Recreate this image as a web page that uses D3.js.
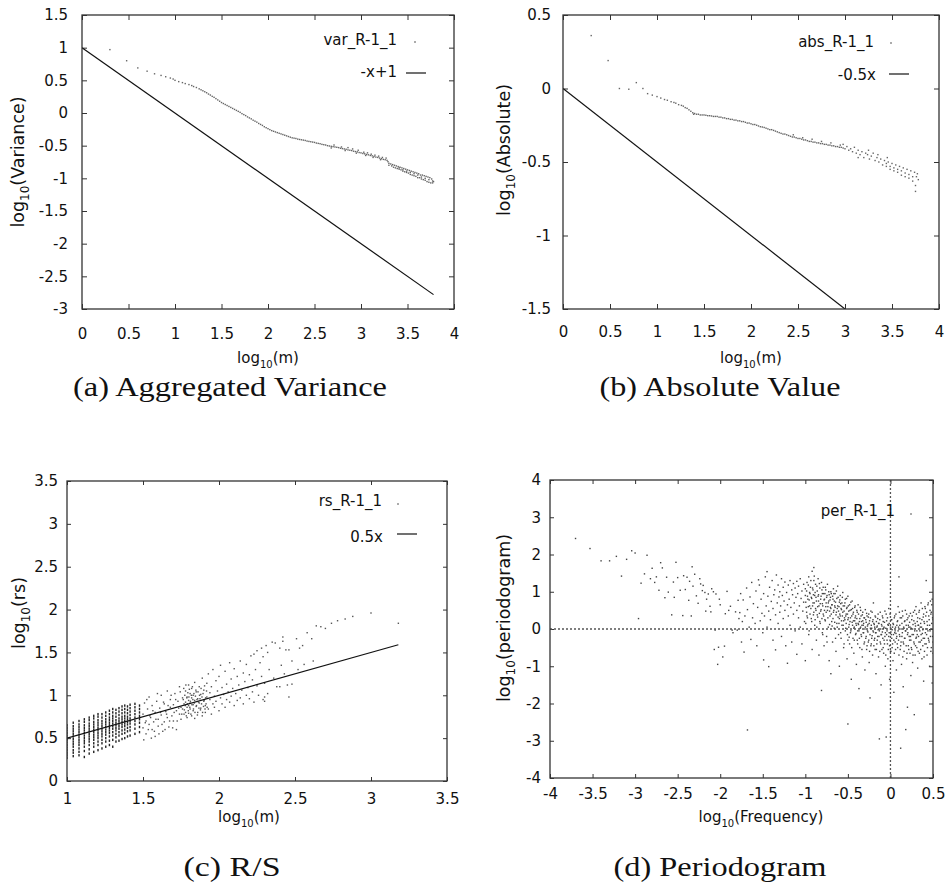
<!DOCTYPE html>
<html>
<head>
<meta charset="utf-8">
<script src="https://cdn.jsdelivr.net/npm/d3@7"></script>
<style>
body { margin: 0; background: #fff; }
</style>
</head>
<body>
<div id="chart"></div>
<script>
// ---- (a) aggregated variance: [log10(m), log10(variance)]
var varPoints = [
[0.30,0.97],[0.48,0.80],[0.60,0.69],[0.70,0.64],[0.78,0.60],[0.85,0.575],[0.90,0.555],[0.95,0.535],[0.98,0.52],[1.00,0.50],
[1.04,0.48],[1.08,0.465],[1.11,0.45],[1.15,0.435],[1.18,0.42],[1.20,0.405],[1.23,0.39],[1.26,0.37],[1.28,0.355],[1.30,0.34],
[1.32,0.325],[1.34,0.31],[1.36,0.29],[1.38,0.275],[1.40,0.255],[1.42,0.24],[1.44,0.22],[1.46,0.20],[1.48,0.18],[1.50,0.16],
[1.52,0.145],[1.54,0.13],[1.56,0.115],[1.58,0.10],[1.60,0.085],[1.62,0.07],[1.64,0.055],[1.66,0.04],[1.68,0.025],[1.70,0.01],
[1.72,-0.01],[1.74,-0.025],[1.76,-0.04],[1.78,-0.06],[1.80,-0.075],[1.82,-0.09],[1.84,-0.11],[1.86,-0.125],[1.88,-0.14],[1.90,-0.16],
[1.92,-0.175],[1.94,-0.19],[1.96,-0.21],[1.98,-0.225],[2.00,-0.24],[2.02,-0.255],[2.04,-0.27],[2.06,-0.28],[2.08,-0.29],[2.10,-0.30],
[2.12,-0.31],[2.14,-0.32],[2.16,-0.33],[2.18,-0.34],[2.20,-0.35],[2.22,-0.36],[2.24,-0.37],[2.26,-0.38],[2.28,-0.385],[2.30,-0.39],
[2.32,-0.40],[2.34,-0.405],[2.36,-0.41],[2.38,-0.415],[2.40,-0.42],[2.42,-0.43],[2.44,-0.435],[2.46,-0.44],[2.48,-0.445],[2.50,-0.45],
[2.52,-0.46],[2.54,-0.465],[2.56,-0.47],[2.58,-0.48],[2.60,-0.485],[2.62,-0.49],[2.64,-0.50],[2.66,-0.505],[2.68,-0.51],[2.70,-0.515],
[2.72,-0.52],[2.74,-0.525],[2.76,-0.53],[2.78,-0.54],[2.80,-0.545],[2.82,-0.55],[2.84,-0.555],[2.86,-0.565],[2.88,-0.57],[2.90,-0.575],
[2.92,-0.585],[2.94,-0.59],[2.96,-0.595],[2.98,-0.605],[3.00,-0.61],[3.02,-0.62],[3.04,-0.625],[3.06,-0.635],[3.08,-0.64],[3.10,-0.65],
[3.12,-0.655],[3.14,-0.665],[3.16,-0.675],[3.18,-0.68],[3.20,-0.69],[3.22,-0.70],[3.24,-0.71],[3.26,-0.715],[3.28,-0.725],
[2.71,-0.49],[2.79,-0.52],[2.86,-0.53],[2.91,-0.55],[2.97,-0.57],[3.03,-0.60],[3.07,-0.61],[3.11,-0.63],[3.15,-0.645],[3.19,-0.66],
[3.23,-0.68],[3.27,-0.69],[2.68,-0.535],[2.83,-0.575],[2.95,-0.615],[3.05,-0.65],[3.13,-0.68],[3.21,-0.715],[3.29,-0.745],
[3.30,-0.77],[3.30,-0.80],[3.32,-0.78],[3.33,-0.81],[3.34,-0.79],[3.35,-0.83],[3.36,-0.80],[3.37,-0.84],[3.38,-0.81],[3.39,-0.85],
[3.40,-0.82],[3.41,-0.86],[3.42,-0.83],[3.43,-0.87],[3.44,-0.84],[3.45,-0.89],[3.46,-0.85],[3.47,-0.90],[3.48,-0.86],[3.49,-0.91],
[3.50,-0.87],[3.51,-0.92],[3.52,-0.88],[3.53,-0.94],[3.54,-0.89],[3.55,-0.95],[3.56,-0.90],[3.57,-0.96],[3.58,-0.91],[3.59,-0.97],
[3.60,-0.92],[3.61,-0.99],[3.62,-0.93],[3.63,-0.99],[3.64,-0.95],[3.65,-1.01],[3.66,-0.95],[3.67,-1.02],[3.68,-0.96],[3.69,-1.03],
[3.70,-0.97],[3.71,-1.05],[3.72,-0.98],[3.73,-1.06],[3.74,-0.99],[3.75,-1.07],[3.76,-1.01],[3.77,-1.04],[3.78,-1.05],
[3.41,-0.84],[3.45,-0.87],[3.49,-0.89],[3.53,-0.91],[3.57,-0.93],[3.61,-0.95],[3.65,-0.98],[3.69,-1.00],[3.73,-1.02],[3.77,-1.07]
];
var varFit = [[0, 1], [3.78, -2.78]];

// ---- (b) absolute value: [log10(m), log10(absolute)]
var absPoints = [
[0.30,0.36],[0.48,0.19],[0.60,0.0],[0.70,-0.005],[0.78,0.04],[0.85,0.0],[0.90,-0.035],[0.95,-0.045],[1.00,-0.055],[1.04,-0.065],
[1.08,-0.075],[1.11,-0.08],[1.15,-0.09],[1.18,-0.095],[1.20,-0.10],[1.23,-0.11],[1.26,-0.115],[1.28,-0.12],[1.30,-0.13],[1.32,-0.135],
[1.34,-0.145],[1.36,-0.155],[1.38,-0.165],[1.39,-0.175],[1.40,-0.17],[1.42,-0.175],[1.44,-0.175],[1.46,-0.18],[1.48,-0.18],[1.50,-0.18],
[1.52,-0.182],[1.54,-0.185],[1.56,-0.185],[1.58,-0.187],[1.60,-0.19],[1.62,-0.19],[1.64,-0.19],[1.66,-0.195],[1.68,-0.195],[1.70,-0.20],
[1.72,-0.20],[1.74,-0.205],[1.76,-0.205],[1.78,-0.21],[1.80,-0.21],[1.82,-0.215],[1.84,-0.215],[1.86,-0.22],[1.88,-0.22],[1.90,-0.225],
[1.92,-0.225],[1.94,-0.23],[1.96,-0.235],[1.98,-0.235],[2.00,-0.24],[2.02,-0.245],[2.04,-0.245],[2.06,-0.25],[2.08,-0.255],[2.10,-0.26],
[2.12,-0.262],[2.14,-0.265],[2.16,-0.27],[2.18,-0.275],[2.20,-0.28],[2.22,-0.28],[2.24,-0.285],[2.26,-0.29],[2.28,-0.295],[2.30,-0.30],
[2.32,-0.305],[2.34,-0.31],[2.36,-0.31],[2.38,-0.315],[2.40,-0.32],[2.42,-0.325],[2.44,-0.33],[2.46,-0.33],[2.48,-0.335],[2.50,-0.34],
[2.52,-0.34],[2.54,-0.345],[2.56,-0.35],[2.58,-0.35],[2.60,-0.355],[2.62,-0.36],[2.64,-0.36],[2.66,-0.365],[2.68,-0.365],[2.70,-0.37],
[2.72,-0.37],[2.74,-0.375],[2.76,-0.375],[2.78,-0.38],[2.80,-0.38],[2.82,-0.385],[2.84,-0.385],[2.86,-0.39],[2.88,-0.39],[2.90,-0.395],
[2.92,-0.395],[2.94,-0.40],[2.96,-0.40],[2.98,-0.405],[3.00,-0.41],
[2.45,-0.315],[2.55,-0.335],[2.65,-0.345],[2.75,-0.36],[2.85,-0.37],[2.95,-0.385],[2.98,-0.38],[3.02,-0.395],[3.04,-0.42],[3.06,-0.41],
[3.08,-0.43],[3.10,-0.40],[3.12,-0.44],[3.14,-0.42],[3.16,-0.45],[3.18,-0.43],[3.20,-0.47],[3.22,-0.44],[3.24,-0.45],[3.26,-0.48],
[3.28,-0.46],[3.30,-0.44],[3.32,-0.49],[3.34,-0.47],[3.36,-0.50],[3.38,-0.48],[3.40,-0.52],[3.42,-0.49],[3.44,-0.53],[3.46,-0.50],
[3.48,-0.55],[3.50,-0.51],[3.52,-0.56],[3.54,-0.52],[3.56,-0.57],[3.58,-0.53],[3.60,-0.59],[3.62,-0.54],[3.64,-0.60],[3.66,-0.55],
[3.68,-0.61],[3.70,-0.56],[3.72,-0.63],[3.74,-0.57],[3.75,-0.70],[3.76,-0.60],[3.77,-0.58],[3.78,-0.62],
[3.44,-0.51],[3.48,-0.53],[3.52,-0.54],[3.56,-0.55],[3.60,-0.56],[3.64,-0.575],[3.68,-0.585],[3.72,-0.60],[3.75,-0.66],
[3.25,-0.42],[3.35,-0.45],[3.45,-0.47],[3.14,-0.47]
];
var absFit = [[0, 0], [3.78, -1.89]];

// ---- (c) R/S: columns [log10(m), [log10(rs) ...]] and loose points
var rsColumns = [
[1.000,[0.27,0.30,0.33,0.36,0.39,0.42,0.45,0.48,0.50,0.53,0.56,0.59,0.62,0.65]],
[1.041,[0.29,0.33,0.36,0.40,0.43,0.46,0.49,0.52,0.55,0.58,0.61,0.64,0.68]],
[1.079,[0.30,0.34,0.38,0.42,0.45,0.48,0.51,0.54,0.57,0.60,0.63,0.66,0.70]],
[1.114,[0.28,0.35,0.40,0.44,0.47,0.50,0.53,0.56,0.59,0.62,0.65,0.69,0.72]],
[1.146,[0.32,0.37,0.42,0.46,0.49,0.52,0.55,0.58,0.61,0.64,0.67,0.71,0.74]],
[1.176,[0.34,0.40,0.44,0.48,0.51,0.54,0.57,0.60,0.63,0.66,0.69,0.73,0.76]],
[1.204,[0.36,0.42,0.46,0.50,0.53,0.56,0.59,0.62,0.65,0.68,0.71,0.75,0.78]],
[1.230,[0.38,0.44,0.48,0.52,0.55,0.58,0.61,0.64,0.67,0.70,0.74,0.78]],
[1.255,[0.40,0.46,0.50,0.54,0.57,0.60,0.63,0.66,0.69,0.72,0.76,0.80]],
[1.279,[0.42,0.47,0.52,0.56,0.59,0.62,0.65,0.68,0.71,0.74,0.78,0.82]],
[1.301,[0.40,0.48,0.53,0.57,0.61,0.64,0.67,0.70,0.73,0.76,0.80,0.84]],
[1.322,[0.46,0.51,0.55,0.59,0.62,0.65,0.68,0.71,0.75,0.79,0.83]],
[1.342,[0.47,0.53,0.57,0.61,0.64,0.67,0.70,0.73,0.77,0.81,0.85]],
[1.362,[0.49,0.55,0.59,0.63,0.66,0.69,0.72,0.75,0.79,0.83,0.87]],
[1.380,[0.50,0.56,0.60,0.64,0.67,0.70,0.73,0.76,0.80,0.84,0.88]],
[1.398,[0.52,0.58,0.62,0.66,0.69,0.72,0.75,0.79,0.83,0.87]],
[1.415,[0.53,0.59,0.63,0.67,0.70,0.73,0.77,0.81,0.85,0.89]],
[1.447,[0.55,0.61,0.66,0.70,0.74,0.78,0.82,0.86,0.90]],
[1.477,[0.57,0.63,0.68,0.72,0.76,0.80,0.84,0.88]]
];
var rsScatter = [
[1.50,0.62],[1.50,0.78],[1.51,0.91],[1.52,0.55],[1.52,0.70],[1.53,0.84],[1.54,0.66],[1.54,0.98],[1.55,0.74],[1.56,0.60],
[1.56,0.88],[1.57,0.69],[1.58,0.80],[1.58,0.52],[1.59,0.93],[1.60,0.72],[1.60,0.64],[1.61,0.85],[1.62,0.77],[1.62,1.00],
[1.63,0.58],[1.64,0.69],[1.64,0.90],[1.65,0.81],[1.66,0.74],[1.66,1.05],[1.67,0.63],[1.68,0.86],[1.68,0.95],[1.69,0.76],
[1.70,0.70],[1.70,0.89],[1.71,1.02],[1.72,0.82],[1.72,0.60],[1.73,0.93],[1.74,0.78],[1.74,1.10],[1.75,0.86],[1.75,0.72],
[1.76,0.97],[1.76,0.84],[1.77,0.90],[1.77,0.78],[1.78,1.05],[1.78,0.92],[1.78,0.80],[1.79,0.98],[1.79,0.86],[1.79,0.74],
[1.80,1.12],[1.80,0.94],[1.80,0.88],[1.80,0.79],[1.81,1.02],[1.81,0.91],[1.81,0.84],[1.82,0.97],[1.82,0.76],[1.82,1.08],
[1.83,0.89],[1.83,1.00],[1.83,0.82],[1.84,0.94],[1.84,1.15],[1.84,0.73],[1.85,0.87],[1.85,1.04],[1.86,0.96],[1.86,0.80],
[1.87,1.10],[1.87,0.91],[1.88,0.85],[1.88,1.01],[1.89,0.76],[1.89,1.20],[1.90,0.93],[1.90,1.06],[1.91,0.88],[1.91,0.80],
[1.92,1.14],[1.92,0.98],[1.93,0.84],[1.93,1.25],[1.94,0.95],[1.94,1.03],[1.95,0.78],[1.95,1.10],[1.96,0.90],[1.96,1.30],
[1.97,0.99],[1.97,0.86],[1.98,1.17],[1.98,0.93],[1.99,1.05],[2.00,0.82],[2.00,1.22],[2.01,0.97],[2.01,1.35],[2.02,1.09],
[2.02,0.90],[2.03,1.01],[2.04,1.28],[2.04,0.86],[2.05,1.13],[2.05,0.95],[2.06,1.04],[2.07,1.38],[2.07,0.92],[2.08,1.19],
[2.08,0.99],[2.09,1.08],[2.10,0.88],[2.10,1.31],[2.11,1.02],[2.12,1.22],[2.12,0.94],[2.13,1.12],[2.14,1.40],[2.14,0.97],
[2.15,1.06],[2.16,1.26],[2.16,0.90],[2.17,1.16],[2.18,1.00],[2.18,1.36],[2.19,1.09],[2.20,0.96],[2.20,1.24],[2.21,1.46],
[2.22,1.04],[2.22,1.18],[2.23,0.92],[2.23,1.48],[2.24,1.30],[2.25,1.11],[2.25,1.52],[2.26,1.00],[2.27,1.38],[2.28,1.22],
[2.28,1.55],[2.29,0.95],[2.29,1.45],[2.30,1.14],[2.30,0.98],[2.30,0.93],[2.31,1.58],[2.32,1.02],[2.32,1.50],[2.33,1.30],
[2.35,1.62],[2.36,1.20],[2.37,1.61],[2.38,1.10],[2.40,1.55],[2.40,1.10],[2.41,1.35],[2.42,1.68],[2.42,1.63],[2.43,1.25],
[2.44,1.53],[2.45,1.12],[2.46,1.53],[2.46,0.98],[2.48,1.13],[2.48,1.40],[2.51,1.66],[2.52,1.30],[2.53,1.55],[2.55,1.58],
[2.56,1.36],[2.58,1.73],[2.61,1.66],[2.62,1.40],[2.64,1.81],[2.67,1.80],[2.70,1.78],[2.74,1.84],[2.78,1.87],[2.83,1.89],
[2.88,1.92],[3.00,1.96],[3.18,1.84],
[1.505,0.48],[1.515,0.68],[1.525,0.95],[1.535,0.60],[1.545,0.76],[1.555,0.50],[1.565,0.82],[1.575,0.58],[1.585,0.72],[1.595,1.02],
[1.605,0.55],[1.615,0.80],[1.625,0.66],[1.635,0.92],[1.645,0.60],[1.655,0.78],[1.665,0.88],[1.675,0.70],[1.685,1.00],[1.695,0.62],
[1.705,0.80],[1.715,0.95],[1.725,0.70],[1.735,0.85],[1.745,1.04],[1.755,0.78],
[1.765,0.95],[1.768,1.08],[1.772,0.83],[1.775,1.00],[1.778,0.88],[1.782,1.12],[1.785,0.76],[1.788,0.97],[1.792,0.90],[1.795,1.03],
[1.798,0.82],[1.802,0.98],[1.805,1.07],[1.808,0.86],[1.812,0.93],[1.815,0.78],[1.818,1.00],[1.822,0.89],[1.825,1.10],[1.828,0.95],
[1.832,0.84],[1.835,1.02],[1.838,0.91],[1.842,0.80],[1.845,0.99],[1.848,1.06],[1.852,0.88],[1.855,0.95],[1.858,0.77],[1.862,1.04],
[1.865,0.92],[1.868,0.85],[1.872,1.00],[1.875,0.96],[1.878,0.83],[1.882,1.08],[1.885,0.90],[1.888,0.98],[1.892,0.80],[1.895,1.02],
[1.898,0.87],[1.902,0.94],[1.905,1.11],[1.908,0.84],[1.912,0.97],[1.915,0.90],[1.918,1.05],[1.922,0.86]
];
var rsFit = [[1, 0.5], [3.18, 1.59]];

// ---- (d) periodogram: [log10(frequency), log10(periodogram)]
var perPoints = [
[-3.70,2.43],[-3.53,2.16],[-3.40,1.83],[-3.30,1.83],[-3.22,1.95],[-3.16,1.42],[-3.10,1.87],[-3.04,2.10],[-3.00,2.04],[-2.96,0.28],
[-2.93,1.23],[-2.89,1.48],[-2.86,1.98],[-2.82,1.35],[-2.80,1.63],[-2.77,1.25],[-2.75,1.40],[-2.72,1.04],[-2.70,1.78],[-2.68,1.64],
[-2.65,0.84],[-2.63,1.39],[-2.61,0.99],[-2.57,0.38],[-2.55,1.26],[-2.54,0.85],[-2.52,1.79],[-2.50,1.38],[-2.47,1.04],[-2.44,0.36],
[-2.43,1.43],[-2.41,1.06],[-2.39,1.39],[-2.37,0.77],[-2.36,1.28],[-2.34,0.35],[-2.33,1.67],[-2.32,1.15],[-2.30,1.47],[-2.28,0.89],
[-2.26,0.69],[-2.24,1.35],[-2.23,1.21],[-2.21,1.03],[-2.20,1.17],[-2.18,0.98],[-2.17,0.48],[-2.16,0.80],[-2.14,0.94],[-2.12,0.61],
[-2.11,0.46],[-2.10,1.08],[-2.08,1.00],[-2.07,-0.55],[-2.06,-0.03],[-2.05,0.94],[-2.03,-0.95],[-2.02,-0.49],[-2.01,0.80],[-2.00,0.65],
[-1.97,-0.75],[-1.95,-0.46],[-1.94,0.41],[-1.92,1.01],[-1.90,0.50],[-1.88,0.61],[-1.86,-0.03],[-1.85,-0.10],[-1.82,0.46],[-1.80,-0.03],
[-1.79,0.77],[-1.78,0.28],
[-1.77,0.44],[-1.76,0.95],[-1.75,-0.35],[-1.74,0.20],[-1.73,0.78],[-1.72,-0.62],[-1.71,0.35],
[-1.69,1.10],[-1.68,-2.71],[-1.68,0.52],[-1.66,0.05],[-1.65,0.86],[-1.64,-0.28],[-1.63,1.25],[-1.62,0.30],[-1.61,0.68],
[-1.59,0.15],[-1.58,1.02],[-1.57,-0.45],[-1.56,0.58],[-1.55,1.32],[-1.54,1.18],[-1.53,0.22],[-1.52,0.80],[-1.51,0.42],[-1.50,-0.10],
[-1.49,-0.83],[-1.49,0.95],[-1.48,0.35],[-1.47,1.40],[-1.46,0.62],[-1.45,1.54],[-1.45,0.05],[-1.44,0.88],[-1.43,-1.01],[-1.43,0.48],
[-1.42,1.12],[-1.41,0.25],[-1.40,0.74],
[-1.39,1.30],[-1.38,0.55],[-1.38,-0.30],[-1.37,0.92],[-1.36,1.05],[-1.35,-0.56],[-1.35,0.38],[-1.34,1.45],[-1.33,0.70],[-1.32,0.15],
[-1.32,1.18],[-1.31,0.86],[-1.30,0.45],[-1.30,1.00],
[-1.29,0.62],[-1.28,1.35],[-1.28,-0.20],[-1.27,0.90],[-1.26,0.28],[-1.26,1.12],[-1.25,0.75],[-1.24,0.50],[-1.24,1.26],[-1.23,-0.45],
[-1.22,0.98],[-1.21,-0.92],[-1.21,0.65],[-1.20,0.35],[-1.20,1.18],
[-1.19,0.80],[-1.18,1.30],[-1.18,0.10],[-1.17,0.58],[-1.16,1.05],[-1.16,-0.35],[-1.15,0.92],[-1.14,0.40],[-1.14,1.22],[-1.13,0.70],
[-1.12,-0.05],[-1.12,1.10],[-1.11,0.85],[-1.10,0.50],[-1.10,1.28],[-1.10,-0.68],
[-1.09,0.95],[-1.08,0.30],[-1.08,1.15],[-1.07,0.62],[-1.06,1.35],[-1.06,0.05],[-1.05,0.82],[-1.04,-0.40],[-1.04,1.02],[-1.03,0.48],
[-1.02,1.20],[-1.02,0.72],[-1.01,0.20],[-1.00,0.90],[-1.00,1.08],[-1.00,-0.85],
[-0.99,0.58],[-0.98,1.25],[-0.98,0.35],[-0.97,0.80],[-0.96,1.40],[-0.96,-0.15],[-0.95,0.98],[-0.95,0.62],[-0.94,1.12],[-0.93,0.28],
[-0.93,0.85],[-0.92,1.55],[-0.92,-0.55],[-0.91,0.70],[-0.91,1.05],[-0.90,0.45],[-0.90,1.65],[-0.90,1.30],
[-0.89,0.90],[-0.89,0.10],[-0.88,1.20],[-0.88,0.55],[-0.87,0.75],[-0.87,-0.30],[-0.86,1.02],[-0.86,0.38],[-0.85,0.88],[-0.85,1.35],
[-0.84,0.62],[-0.84,-0.70],[-0.83,1.10],[-0.83,0.20],[-0.82,0.80],[-0.82,0.48],[-0.81,1.25],[-0.81,-1.65],[-0.80,0.68],[-0.80,0.95],
[-0.80,-0.10],
[-0.79,1.12],[-0.79,0.40],[-0.78,0.78],[-0.78,-0.45],[-0.77,0.95],[-0.77,0.25],[-0.76,0.60],[-0.76,1.05],[-0.75,0.85],[-0.75,-0.20],
[-0.74,0.50],[-0.74,1.20],[-0.73,0.70],[-0.73,0.05],[-0.72,0.92],[-0.72,-0.85],[-0.71,0.35],[-0.71,0.78],[-0.70,1.00],[-0.70,0.55],
[-0.70,-1.20],
[-0.69,0.65],[-0.69,0.20],[-0.68,0.88],[-0.68,-0.35],[-0.67,0.45],[-0.67,1.08],[-0.66,0.75],[-0.66,0.02],[-0.65,0.58],[-0.65,0.95],
[-0.64,-0.60],[-0.64,0.38],[-0.63,0.82],[-0.63,0.15],[-0.62,0.62],[-0.62,1.15],[-0.61,-0.15],[-0.61,0.48],[-0.60,0.72],[-0.60,0.28],
[-0.60,-1.00],
[-0.59,0.90],[-0.59,0.35],[-0.58,0.55],[-0.58,-0.25],[-0.57,0.70],[-0.57,0.10],[-0.56,0.45],[-0.56,0.98],[-0.55,0.22],[-0.55,-0.50],
[-0.54,0.62],[-0.54,0.30],[-0.53,0.80],[-0.53,-0.05],[-0.52,0.40],[-0.52,0.15],[-0.51,0.58],[-0.51,-0.80],[-0.50,0.25],[-0.50,-2.55],
[-0.50,0.88],[-0.50,-0.30],
[-0.49,0.48],[-0.49,0.05],[-0.48,0.65],[-0.48,-0.40],[-0.47,0.30],[-0.47,-0.10],[-0.46,0.52],[-0.46,-1.35],[-0.45,0.18],[-0.45,0.75],
[-0.44,-0.25],[-0.44,0.40],[-0.43,0.02],[-0.43,-0.65],[-0.42,0.58],[-0.42,0.22],[-0.41,-0.15],[-0.41,0.35],[-0.40,-0.95],[-0.40,0.10],
[-0.39,0.45],[-0.39,-0.30],[-0.38,0.15],[-0.38,0.65],[-0.37,-0.05],[-0.37,-1.60],[-0.36,0.28],[-0.36,-0.50],[-0.35,0.05],[-0.35,0.50],
[-0.34,-0.20],[-0.34,0.20],[-0.33,-0.75],[-0.33,0.38],[-0.32,-0.10],[-0.32,0.10],[-0.31,-0.40],[-0.31,0.30],[-0.30,-1.10],[-0.30,0.00],
[-0.29,0.25],[-0.29,-0.25],[-0.28,0.42],[-0.28,-0.55],[-0.27,0.08],[-0.27,-0.05],[-0.26,-0.35],[-0.26,0.32],[-0.25,-0.90],[-0.25,0.15],
[-0.24,-0.15],[-0.24,-1.85],[-0.23,0.48],[-0.23,-0.45],[-0.22,0.02],[-0.22,-0.25],[-0.21,0.20],[-0.21,-0.70],[-0.20,-0.08],[-0.20,0.70],
[-0.19,-0.30],[-0.19,0.12],[-0.18,-0.55],[-0.18,0.35],[-0.17,-0.10],[-0.17,-1.20],[-0.16,0.05],[-0.16,-0.40],[-0.15,0.28],[-0.15,-0.20],
[-0.14,-0.75],[-0.14,0.15],[-0.13,-0.05],[-0.13,-2.95],[-0.12,-0.35],[-0.12,0.45],[-0.11,-0.15],[-0.11,-1.50],[-0.10,0.08],[-0.10,-0.55],
[-0.09,-0.25],[-0.09,0.30],[-0.08,-0.65],[-0.08,0.02],[-0.07,-0.40],[-0.07,0.18],[-0.06,-0.10],[-0.06,-1.00],[-0.05,-2.90],[-0.05,0.40],
[-0.04,-0.30],[-0.04,-0.05],[-0.03,0.12],[-0.03,-0.80],[-0.02,-0.20],[-0.02,0.55],[-0.01,-0.45],[-0.01,-1.35],[0.00,0.05],[0.00,-0.60],
[0.01,-0.15],[0.01,0.25],[0.02,-0.50],[0.02,-0.02],[0.03,-0.85],[0.03,0.15],[0.04,-0.30],[0.04,-1.70],[0.05,0.35],[0.05,-0.10],
[0.06,-0.55],[0.06,0.05],[0.07,-0.25],[0.07,-1.10],[0.08,0.20],[0.08,-0.40],[0.09,-0.05],[0.09,0.60],[0.10,-0.70],[0.10,1.40],
[0.11,-0.20],[0.11,0.10],[0.12,-3.20],[0.12,-0.45],[0.13,0.30],[0.13,-0.95],[0.14,-0.10],[0.14,0.48],[0.15,-0.35],[0.15,-1.55],
[0.16,0.02],[0.16,-0.60],[0.17,0.22],[0.17,-0.25],[0.18,-2.70],[0.18,-0.05],[0.19,-0.80],[0.19,0.40],[0.20,-0.15],[0.20,-2.10],
[0.21,0.10],[0.21,-0.45],[0.22,-0.20],[0.22,0.35],[0.23,-0.65],[0.23,0.05],[0.24,-1.25],[0.24,-0.30],[0.25,0.25],[0.25,-0.55],
[0.26,0.00],[0.26,-0.90],[0.27,0.45],[0.27,-0.15],[0.28,-0.40],[0.28,-2.30],[0.29,0.15],[0.29,-0.70],[0.30,-0.25],[0.30,0.60],
[0.31,-0.05],[0.31,-0.50],[0.32,0.30],[0.32,-1.05],[0.33,-0.20],[0.33,0.10],[0.34,-0.65],[0.34,0.50],[0.35,-0.35],[0.35,0.05],
[0.36,0.70],[0.36,-0.15],[0.37,-0.80],[0.37,0.25],[0.38,-0.45],[0.38,-0.02],[0.39,0.40],[0.39,-1.40],[0.40,-0.25],[0.40,0.15],
[0.40,-0.60],[0.41,0.55],[0.41,-0.10],[0.42,1.30],[0.42,-0.40],[0.43,0.20],[0.43,-0.70],[0.44,0.65],[0.44,-0.05],[0.45,-0.30],
[0.45,0.35],[0.46,-1.00],[0.46,0.10],[0.47,0.75],[0.47,-0.20],[0.48,-0.50],[0.48,0.45],[0.49,0.00],[0.49,-1.45],[0.49,0.80],
[0.50,-0.35],[0.50,0.25],[0.50,-0.65]
];
// denser high-frequency part: [log10(frequency), value, value]
var perDense = [
[-0.995,0.72,0.15],[-0.985,1.02,0.45],[-0.975,0.30,0.88],[-0.965,0.60,1.18],[-0.955,-0.05,0.78],[-0.945,0.95,0.40],[-0.935,0.55,1.30],
[-0.925,0.20,0.82],[-0.915,1.10,0.62],[-0.905,0.38,0.92],[-0.895,0.70,1.42],[-0.885,0.25,0.98],[-0.875,0.85,0.50],[-0.865,1.15,0.05],
[-0.855,0.60,0.32],[-0.845,0.92,0.75],[-0.835,0.42,1.22],[-0.825,0.15,0.68],[-0.815,0.88,0.52],[-0.805,1.05,0.28],[-0.795,0.62,-0.15],
[-0.785,0.35,0.95],[-0.775,0.80,0.50],[-0.765,1.12,0.22],[-0.755,0.45,0.70],[-0.745,0.90,-0.35],[-0.735,0.30,0.60],[-0.725,0.75,1.00],
[-0.715,0.12,0.48],[-0.705,0.85,0.58],[-0.695,0.40,0.95],[-0.685,0.65,0.08],[-0.675,0.28,0.80],[-0.665,0.95,0.50],[-0.655,0.18,0.62],
[-0.645,0.72,-0.25],[-0.635,0.45,1.02],[-0.625,0.05,0.55],[-0.615,0.85,0.32],[-0.605,0.60,0.15],[-0.595,0.40,0.78],[-0.585,0.68,-0.10],
[-0.575,0.22,0.52],[-0.565,0.85,0.35],[-0.555,0.10,0.62],[-0.545,0.48,-0.40],[-0.535,0.70,0.25],[-0.525,0.35,0.02],[-0.515,0.55,0.82],
[-0.505,-0.15,0.40],[-0.495,0.30,0.62],[-0.485,0.12,-0.22],[-0.475,0.50,0.20],[-0.465,0.72,-0.05],[-0.455,0.35,-0.50],[-0.445,0.10,0.55],
[-0.435,0.45,0.22],[-0.425,-0.30,0.05],[-0.415,0.62,0.30],[-0.405,0.15,-0.12],[-0.395,0.28,0.50],[-0.385,-0.05,-0.40],[-0.375,0.40,0.12],
[-0.365,0.20,-0.25],[-0.355,0.58,0.02],[-0.345,-0.15,0.35],[-0.335,0.10,-0.55],[-0.325,0.45,0.22],[-0.315,-0.10,0.15],[-0.305,0.30,-0.35],
[-0.295,0.05,0.52],[-0.285,-0.20,0.18],[-0.275,0.35,-0.45],[-0.265,0.12,-0.08],[-0.255,-0.30,0.40],[-0.245,0.22,-0.60],[-0.235,0.02,0.30],
[-0.225,-0.40,0.10],[-0.215,0.45,-0.18],[-0.205,-0.05,0.25],[-0.195,0.15,-0.45],[-0.185,-0.25,0.05],[-0.175,0.32,-0.10],[-0.165,-0.55,0.20],
[-0.155,0.08,-0.30],[-0.145,0.40,-0.02],[-0.135,-0.20,0.15],[-0.125,0.25,-0.60],[-0.115,-0.40,0.00],[-0.105,0.12,-0.15],[-0.095,-0.08,0.35],
[-0.085,0.20,-0.50],[-0.075,-0.30,0.05],[-0.065,0.48,-0.20],[-0.055,0.02,-0.70],[-0.045,-0.15,0.22],[-0.035,0.30,-0.40],[-0.025,-0.55,0.10],
[-0.015,0.15,-0.10],[-0.005,-0.30,0.40],[0.005,-0.08,-0.60],[0.015,0.25,-0.25],[0.025,-0.40,0.05],[0.035,0.12,-0.15],[0.045,-0.65,0.30],
[0.055,-0.05,-0.35],[0.065,0.40,-0.12],[0.075,-0.20,0.10],[0.085,-0.50,0.22],[0.095,0.05,-0.30],[0.105,-0.15,0.45],[0.115,0.30,-0.55],
[0.125,-0.35,0.00],[0.135,0.15,-0.20],[0.145,-0.75,0.35],[0.155,0.05,-0.40],[0.165,-0.25,0.20],[0.175,0.50,-0.05],[0.185,-0.45,0.10],
[0.195,0.25,-0.65],[0.205,-0.10,0.30],[0.215,-0.55,0.05],[0.225,0.18,-0.30],[0.235,-0.20,0.42],[0.245,0.02,-0.50],[0.255,0.35,-0.15],
[0.265,-0.70,0.12],[0.275,0.22,-0.35],[0.285,-0.05,0.50],[0.295,-0.45,0.08],[0.305,0.40,-0.22],[0.315,-0.15,0.20],[0.325,0.10,-0.60],
[0.335,-0.35,0.45],[0.345,0.28,-0.05],[0.355,-0.55,0.15],[0.365,0.05,-0.30],[0.375,0.55,-0.12],[0.385,-0.25,0.32],[0.395,0.20,-0.75],
[0.405,-0.40,0.60],[0.415,0.35,0.00],[0.425,-0.15,0.45],[0.435,0.10,-0.50],[0.445,0.70,-0.25],[0.455,-0.35,0.25],[0.465,0.50,-0.05],
[0.475,-0.60,0.40],[0.485,0.15,0.65],[0.495,-0.20,0.30]
];

// ---- tick values
var ticksA_x = [0, 0.5, 1, 1.5, 2, 2.5, 3, 3.5, 4];
var ticksA_y = [-3, -2.5, -2, -1.5, -1, -0.5, 0, 0.5, 1, 1.5];
var ticksB_x = [0, 0.5, 1, 1.5, 2, 2.5, 3, 3.5, 4];
var ticksB_y = [-1.5, -1, -0.5, 0, 0.5];
var ticksC_x = [1, 1.5, 2, 2.5, 3, 3.5];
var ticksC_y = [0, 0.5, 1, 1.5, 2, 2.5, 3, 3.5];
var ticksD_x = [-4, -3.5, -3, -2.5, -2, -1.5, -1, -0.5, 0, 0.5];
var ticksD_y = [-4, -3, -2, -1, 0, 1, 2, 3, 4];

var sansFont = "'DejaVu Sans', sans-serif";
var serifFont = "'Liberation Serif', serif";

var svg = d3.select("#chart")
	.append("svg")
	.attr("width", 948)
	.attr("height", 894)
	.style("background", "#fff");

// "log10(...)" label with subscript
function logLabel(sel, name, size) {
	var sub = Math.round(size * 0.66);
	sel.attr("font-size", size);
	sel.append("tspan").text("log");
	sel.append("tspan").attr("font-size", sub).attr("dy", sub * 0.45).text("10");
	sel.append("tspan").attr("dy", -sub * 0.45).text("(" + name + ")");
}

function drawPanel(p) {
	var x = d3.scaleLinear().domain(p.xDomain).range([p.left, p.right]);
	var y = d3.scaleLinear().domain(p.yDomain).range([p.bottom, p.top]);
	var g = svg.append("g");

	svg.append("clipPath").attr("id", "clip-" + p.id)
		.append("rect")
		.attr("x", p.left).attr("y", p.top)
		.attr("width", p.right - p.left).attr("height", p.bottom - p.top);

	var fmt = function(d) { return String(d); };

	var axes = [
		g.append("g").attr("transform", "translate(0," + p.bottom + ")")
			.call(d3.axisBottom(x).tickValues(p.xTicks).tickFormat(fmt).tickSize(-p.tick).tickPadding(p.xPad)),
		g.append("g").attr("transform", "translate(0," + p.top + ")")
			.call(d3.axisTop(x).tickValues(p.xTicks).tickFormat("").tickSize(-p.tick)),
		g.append("g").attr("transform", "translate(" + p.left + ",0)")
			.call(d3.axisLeft(y).tickValues(p.yTicks).tickFormat(fmt).tickSize(-p.tick).tickPadding(p.yPad)),
		g.append("g").attr("transform", "translate(" + p.right + ",0)")
			.call(d3.axisRight(y).tickValues(p.yTicks).tickFormat("").tickSize(-p.tick))
	];
	axes.forEach(function(a) {
		a.attr("font-family", sansFont).attr("font-size", 15);
		a.select(".domain").remove();
		a.selectAll("line").attr("stroke", "#333").attr("stroke-width", 1);
		a.selectAll("text").attr("fill", "#111");
	});

	// zero lines (periodogram)
	if (p.zeroLines) {
		g.append("line").attr("x1", p.left).attr("x2", p.right).attr("y1", y(0)).attr("y2", y(0))
			.attr("stroke", "#555").attr("stroke-width", 1.3).attr("stroke-dasharray", "2,2");
		g.append("line").attr("x1", x(0)).attr("x2", x(0)).attr("y1", p.top).attr("y2", p.bottom)
			.attr("stroke", "#555").attr("stroke-width", 1.3).attr("stroke-dasharray", "2,2");
	}

	var plot = g.append("g").attr("clip-path", "url(#clip-" + p.id + ")");

	// columns of points (drawn a little taller, they form streaks)
	if (p.columns) {
		var colPts = p.columns.flatMap(function(c) { return c[1].map(function(v) { return [c[0], v]; }); });
		plot.selectAll(".col")
			.data(colPts)
			.join("rect")
			.attr("class", "col")
			.attr("x", function(d) { return x(d[0]) - 0.7; })
			.attr("y", function(d) { return y(d[1]) - 1.2; })
			.attr("width", 1.4)
			.attr("height", 2.4)
			.attr("fill", "#222");
	}

	plot.selectAll(".pt")
		.data(p.points)
		.join("rect")
		.attr("class", "pt")
		.attr("x", function(d) { return x(d[0]) - 0.7; })
		.attr("y", function(d) { return y(d[1]) - 0.7; })
		.attr("width", 1.4)
		.attr("height", 1.4)
		.attr("fill", p.color);

	if (p.fit) {
		var line = d3.line().x(function(d) { return x(d[0]); }).y(function(d) { return y(d[1]); });
		plot.append("path").datum(p.fit)
			.attr("d", line)
			.attr("fill", "none")
			.attr("stroke", "#111")
			.attr("stroke-width", 1.2);
	}

	// frame
	g.append("rect")
		.attr("x", p.left).attr("y", p.top)
		.attr("width", p.right - p.left).attr("height", p.bottom - p.top)
		.attr("fill", "none").attr("stroke", "#333").attr("stroke-width", 1.3);

	// legend
	p.legend.forEach(function(l) {
		g.append("text")
			.attr("x", l.tx).attr("y", l.ty)
			.attr("text-anchor", "end")
			.attr("font-family", sansFont).attr("font-size", 15)
			.attr("fill", "#111")
			.text(l.label);
		if (l.kind == "dot") {
			g.append("rect").attr("x", l.sx - 0.7).attr("y", l.sy - 0.7)
				.attr("width", 1.4).attr("height", 1.4).attr("fill", "#555");
		} else {
			g.append("line").attr("x1", l.sx).attr("x2", l.sx + 20).attr("y1", l.sy).attr("y2", l.sy)
				.attr("stroke", "#111").attr("stroke-width", 1.2);
		}
	});

	// axis titles
	g.append("text")
		.attr("x", p.xTitle[0]).attr("y", p.xTitle[1])
		.attr("text-anchor", "middle")
		.attr("font-family", sansFont).attr("fill", "#111")
		.call(logLabel, p.xName, 15);
	g.append("text")
		.attr("transform", "translate(" + p.yTitle[0] + "," + p.yTitle[1] + ") rotate(-90)")
		.attr("text-anchor", "middle")
		.attr("font-family", sansFont).attr("fill", "#111")
		.call(logLabel, p.yName, 17.5);
}

drawPanel({
	id: "a", left: 82, right: 454, top: 15, bottom: 309,
	xDomain: [0, 4], yDomain: [-3, 1.5], xTicks: ticksA_x, yTicks: ticksA_y,
	tick: 5, xPad: 19, yPad: 14,
	points: varPoints, color: "#666", fit: varFit,
	xName: "m", yName: "Variance", xTitle: [268, 363], yTitle: [24, 162],
	legend: [
		{label: "var_R-1_1", tx: 397, ty: 45, kind: "dot", sx: 415, sy: 42},
		{label: "-x+1", tx: 397, ty: 77, kind: "line", sx: 406, sy: 73}
	]
});

drawPanel({
	id: "b", left: 563, right: 939, top: 15, bottom: 309,
	xDomain: [0, 4], yDomain: [-1.5, 0.5], xTicks: ticksB_x, yTicks: ticksB_y,
	tick: 5, xPad: 17, yPad: 12,
	points: absPoints, color: "#666", fit: absFit,
	xName: "m", yName: "Absolute", xTitle: [751, 363], yTitle: [510, 150],
	legend: [
		{label: "abs_R-1_1", tx: 874, ty: 47, kind: "dot", sx: 891, sy: 43},
		{label: "-0.5x", tx: 876, ty: 80, kind: "line", sx: 889, sy: 74}
	]
});

drawPanel({
	id: "c", left: 67, right: 447, top: 481, bottom: 781,
	xDomain: [1, 3.5], yDomain: [0, 3.5], xTicks: ticksC_x, yTicks: ticksC_y,
	tick: 4, xPad: 12, yPad: 9,
	columns: rsColumns, points: rsScatter, color: "#555", fit: rsFit,
	xName: "m", yName: "rs", xTitle: [249, 822], yTitle: [25, 613],
	legend: [
		{label: "rs_R-1_1", tx: 382, ty: 506, kind: "dot", sx: 398, sy: 504},
		{label: "0.5x", tx: 383, ty: 542, kind: "line", sx: 397, sy: 534}
	]
});

drawPanel({
	id: "d", left: 550, right: 933, top: 480, bottom: 778,
	xDomain: [-4, 0.5], yDomain: [-4, 4], xTicks: ticksD_x, yTicks: ticksD_y,
	tick: 4, xPad: 10, yPad: 9,
	points: perPoints.concat(perDense.flatMap(function(d) { return [[d[0], d[1]], [d[0], d[2]]]; })),
	color: "#444", fit: null, zeroLines: true,
	xName: "Frequency", yName: "periodogram", xTitle: [761, 822], yTitle: [510, 618],
	legend: [
		{label: "per_R-1_1", tx: 895, ty: 516, kind: "dot", sx: 911, sy: 514}
	]
});

// sub-figure captions
var captions = [
	{text: "(a) Aggregated Variance", x: 230, y: 396, len: 314},
	{text: "(b) Absolute Value", x: 720, y: 396, len: 241},
	{text: "(c) R/S", x: 232, y: 876, len: 97},
	{text: "(d) Periodogram", x: 720, y: 876, len: 213}
];
svg.selectAll(".caption")
	.data(captions)
	.join("text")
	.attr("class", "caption")
	.attr("x", function(d) { return d.x; })
	.attr("y", function(d) { return d.y; })
	.attr("text-anchor", "middle")
	.attr("font-family", serifFont)
	.attr("font-size", 28)
	.attr("textLength", function(d) { return d.len; })
	.attr("lengthAdjust", "spacingAndGlyphs")
	.attr("fill", "#111")
	.text(function(d) { return d.text; });
</script>
</body>
</html>
